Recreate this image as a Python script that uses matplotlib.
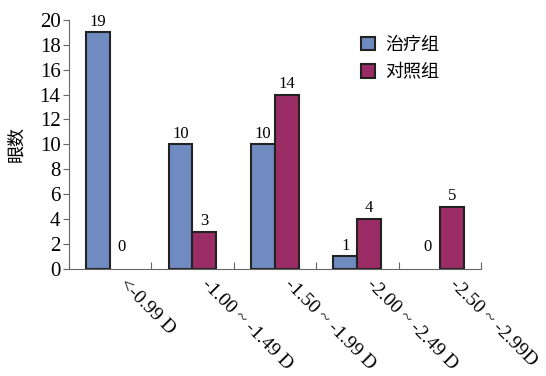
import matplotlib
matplotlib.use("Agg")
import matplotlib.pyplot as plt
import matplotlib.patches as mpatches
import numpy as np

categories = ["<-0.99 D", "-1.00 ~ -1.49 D", "-1.50 ~ -1.99 D", "-2.00 ~ -2.49 D", "-2.50 ~ -2.99D"]
treat = [19, 10, 10, 1, 0]
control = [0, 3, 14, 4, 5]
series_names = ["治疗组", "对照组"]
ylabel = "眼数"

serif = ["Liberation Serif", "DejaVu Serif"]
cjk = ["Noto Sans CJK SC", "DejaVu Sans"]

fig = plt.figure(figsize=(5.46, 3.76), dpi=100)
ax = fig.add_axes([0.126, 0.285, 0.755, 0.662])

x = np.arange(len(categories))
w = 0.29
c1, c2 = "#6F8BC0", "#9A2D66"
handles = []
for xs, vals, col, name in ((x - w / 2, treat, c1, series_names[0]),
                            (x + w / 2, control, c2, series_names[1])):
    bars = ax.bar(xs, vals, w, color=col, edgecolor="#222222", linewidth=1.5)
    for b, v in zip(bars, vals):
        if v == 0:
            b.set_visible(False)
    for xi, v in zip(xs, vals):
        off = 2 if v > 0 else 10
        ax.annotate(str(v), (xi, v), xytext=(0, off), textcoords="offset points",
                    ha="center", va="bottom", fontsize=12, family=serif)
    handles.append(mpatches.Patch(facecolor=col, edgecolor="#222222", linewidth=1.5, label=name))

ax.set_xlim(-0.5, len(categories) - 0.5)
ax.set_ylim(0, 20)
ax.set_yticks(range(0, 21, 2))
ax.set_yticklabels([str(t) for t in range(0, 21, 2)], family=serif, fontsize=15)
ax.tick_params(axis="y", direction="out", length=4, width=0.8, color="#666666", pad=2)

ax.set_xticks(np.arange(-0.5, len(categories), 1.0))
ax.set_xticklabels([])
ax.tick_params(axis="x", direction="in", length=5, width=0.8, color="#666666")
for xi, lab in zip(x, categories):
    ax.text(xi + 0.22, -0.6, lab, rotation=-45, rotation_mode="anchor", ha="left", va="top",
            fontsize=14, family=serif, transform=ax.transData)

for s in ("top", "right"):
    ax.spines[s].set_visible(False)
for s in ("left", "bottom"):
    ax.spines[s].set_color("#666666")
    ax.spines[s].set_linewidth(0.8)

ax.set_ylabel(ylabel, family=cjk, fontsize=13, labelpad=10)

leg = ax.legend(handles=handles, loc="upper left", bbox_to_anchor=(0.67, 1.0), frameon=False,
                prop={"family": cjk, "size": 13}, handlelength=0.75, handleheight=0.75,
                handletextpad=0.6, labelspacing=0.5)

fig.savefig("out.png", dpi=100)
